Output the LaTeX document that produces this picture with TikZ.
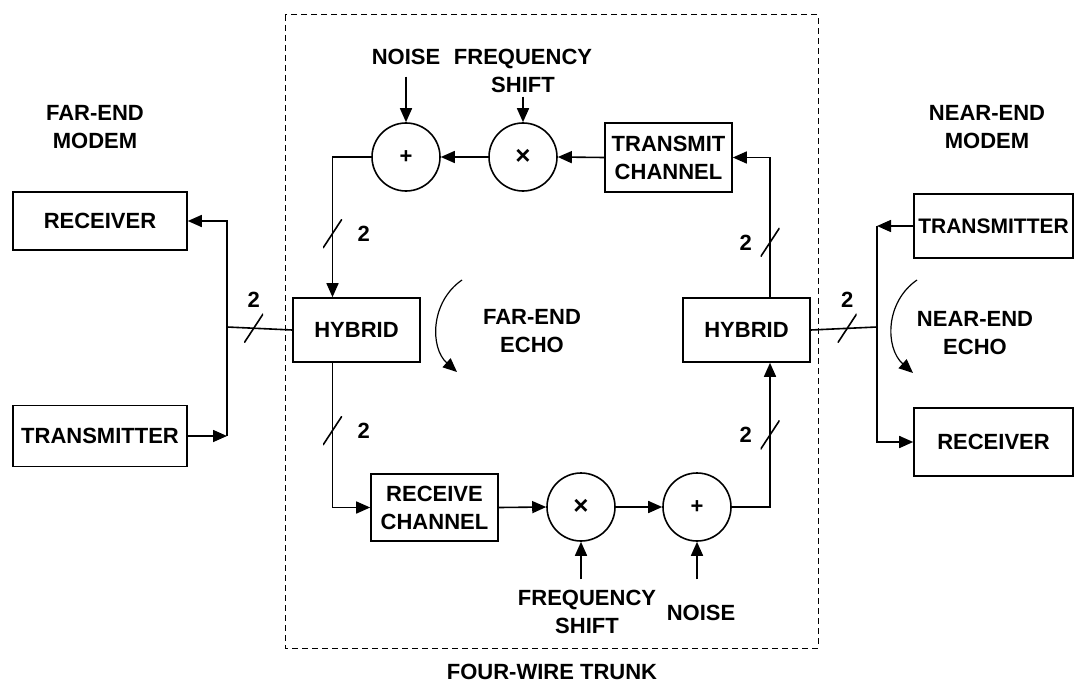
\documentclass[tikz,border=0pt]{standalone}
\usepackage{fontspec}
\setmainfont{Liberation Sans}
\usetikzlibrary{arrows.meta}
\begin{document}
\begin{tikzpicture}[x=1pt,y=-1pt,line width=1.6pt,
  >={Triangle[length=14pt,width=12pt]},
  lbl/.style={align=center,inner sep=2pt,font=\fontsize{22}{28}\selectfont\bfseries},
  blk/.style={lbl,draw,minimum width=#1,minimum height=64pt},
  mix/.style={circle,draw,minimum size=68pt,inner sep=0pt,font=\fontsize{22}{24}\selectfont\bfseries},
  wires/.style={inner sep=0pt,minimum width=19pt,minimum height=29pt,
    path picture={\draw[-,line width=1.6pt] (path picture bounding box.south west) -- (path picture bounding box.north east);}},
  num/.style={lbl,inner sep=0pt}]
  \useasboundingbox (0,0) rectangle (1075,687);
  % four-wire trunk
  \draw[line width=1pt,dash pattern=on 6pt off 4pt] (285,15) rectangle (818,648);
  \node[lbl] (trunk) at (552,672) {FOUR-WIRE TRUNK};
  % far-end modem
  \node[lbl] (farmodem) at (95,127) {FAR-END\\MODEM};
  \node[blk=174pt,minimum height=58pt] (rxL) at (100,221) {RECEIVER};
  \node[blk=174pt,minimum height=61pt] (txL) at (100,436) {TRANSMITTER};
  % near-end modem
  \node[lbl] (nearmodem) at (987,127) {NEAR-END\\MODEM};
  \node[blk=159pt,inner xsep=0pt,font=\fontsize{21}{28}\selectfont\bfseries] (txR) at (993.5,226) {TRANSMITTER};
  \node[blk=159pt,minimum height=68pt] (rxR) at (993.5,442) {RECEIVER};
  % hybrids and channels
  \node[blk=127pt] (hybL) at (356.5,330) {HYBRID};
  \node[blk=127pt] (hybR) at (746.5,330) {HYBRID};
  \node[blk=127pt,minimum height=69pt] (txch) at (668.5,157.5) {TRANSMIT\\CHANNEL};
  \node[blk=127pt,minimum height=67pt] (rxch) at (434.5,507.5) {RECEIVE\\CHANNEL};
  \node[mix] (plusT) at (406,157) {+};
  \node[mix,font=\fontsize{26}{28}\selectfont\bfseries] (timesT) at (523,157) {×};
  \node[mix,font=\fontsize{26}{28}\selectfont\bfseries] (timesB) at (581,507) {×};
  \node[mix] (plusB) at (697,507) {+};
  % impairment sources
  \node[lbl,inner ysep=11pt] (noiseT) at (406,57) {NOISE};
  \node[lbl,inner ysep=3pt] (freqT) at (523,71) {FREQUENCY\\SHIFT};
  \node[lbl,inner ysep=10pt] (freqB) at (587,612) {FREQUENCY\\SHIFT};
  \node[lbl,inner ysep=25pt] (noiseB) at (701,613) {NOISE};
  \draw[->] (noiseT.south) -- (plusT.north);
  \draw[->] (freqT.south) -- (timesT.north);
  \draw[->] (freqB.north -| timesB.south) -- (timesB.south);
  \draw[->] (noiseB.north -| plusB.south) -- (plusB.south);
  % transmit path
  \draw[->] (txch.west) -- (timesT.east);
  \draw[->] (timesT.west) -- (plusT.east);
  \draw[->] (plusT.west) -| node[pos=0.773,wires,label={[num,label distance=14pt]right:2}]{} ([xshift=-24pt]hybL.north);
  \draw[->] ([xshift=23.5pt]hybR.north) |- node[pos=0.196,wires,label={[num,label distance=7pt]left:2}]{} (txch.east);
  % receive path
  \draw[->] ([xshift=-24pt]hybL.south) |- node[pos=0.234,wires,label={[num,label distance=14pt]right:2}]{} (rxch.west);
  \draw[->] (rxch.east) -- (timesB.west);
  \draw[->] (timesB.east) -- (plusB.west);
  \draw[->] (plusB.east) -| node[pos=0.75,wires,label={[num,label distance=7pt]left:2}]{} ([xshift=23.5pt]hybR.south);
  % two-wire sides
  \coordinate (jL) at (227,327);
  \coordinate (jR) at (877,327);
  \draw (hybL.west) -- node[pos=0.59,wires,label={[num,label distance=5pt]above:2}]{} (jL);
  \draw[->] (jL) |- (rxL.east);
  \draw (jL) -- (jL |- txL.east);
  \draw[->] (txL.east) -- (txL.east -| jL);
  \draw (hybR.east) -- node[pos=0.55,wires,label={[num,label distance=5pt]above:2}]{} (jR);
  \draw[->] (jR) |- (rxR.west);
  \draw (jR) -- (jR |- txR.west);
  \draw[->] (txR.west) -- (txR.west -| jR);
  % echoes
  \node[lbl] (farecho) at (532,331) {FAR-END\\ECHO};
  \node[lbl] (nearecho) at (975,333) {NEAR-END\\ECHO};
  \draw[->,line width=1.2pt] (462,280) .. controls (430,302) and (430,348) .. (457,372);
  \draw[->,line width=1.2pt] (917,280) .. controls (885,302) and (885,348) .. (913,373);
\end{tikzpicture}
\end{document}
